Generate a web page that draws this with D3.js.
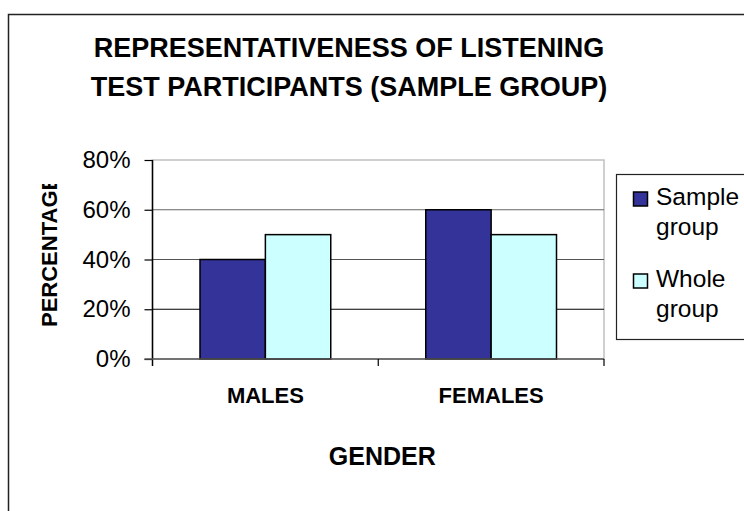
<!DOCTYPE html>
<html>
<head>
<meta charset="utf-8">
<script src="https://cdn.jsdelivr.net/npm/d3@7"></script>
<style>
  html, body { margin: 0; padding: 0; background: #fff; }
  svg { display: block; font-family: Arial, "Liberation Sans", sans-serif; }
</style>
</head>
<body>
<svg id="chart" width="744" height="511"></svg>
<script>
// Gender split of listening-test participants
const categories = ["MALES", "FEMALES"];
const seriesNames = ["Sample group", "Whole group"];
const sampleGroup = [0.40, 0.60];
const wholeGroup = [0.50, 0.50];
const yTicks = [0, 0.2, 0.4, 0.6, 0.8];
const titleLines = ["REPRESENTATIVENESS OF LISTENING", "TEST PARTICIPANTS (SAMPLE GROUP)"];
const legendLines = [["Sample", "group"], ["Whole", "group"]];

const colors = ["#333399", "#ccffff"];
const svg = d3.select("#chart");

// chart area frame
svg.append("rect")
  .attr("x", 8.5).attr("y", 14.5)
  .attr("width", 800).attr("height", 600)
  .attr("fill", "#fff").attr("stroke", "#222").attr("stroke-width", 1.5);

// title
const title = svg.append("text")
  .attr("text-anchor", "middle")
  .attr("font-weight", "bold")
  .attr("font-size", 27);
titleLines.forEach((t, i) => {
  title.append("tspan")
    .attr("x", 349).attr("y", 57 + i * 39)
    .text(t);
});

const plot = { left: 152.5, right: 604, top: 160, bottom: 359 };

const y = d3.scaleLinear().domain([0, 0.8]).range([plot.bottom, plot.top]);
const x0 = d3.scaleBand().domain(categories).range([plot.left, plot.right]);
const x1 = d3.scaleBand().domain(seriesNames)
  .range([47.5, x0.bandwidth() - 47.5]);

// plot area border (light grey)
svg.append("rect")
  .attr("x", plot.left).attr("y", plot.top)
  .attr("width", plot.right - plot.left).attr("height", plot.bottom - plot.top)
  .attr("fill", "#fff").attr("stroke", "#c0c0c0").attr("stroke-width", 1.5);

// horizontal gridlines
const gridColor = { 0.2: "#000", 0.4: "#555", 0.6: "#666" };
svg.append("g").selectAll("line")
  .data(yTicks.filter(d => d > 0 && d < 0.8))
  .join("line")
  .attr("x1", plot.left).attr("x2", plot.right)
  .attr("y1", d => y(d)).attr("y2", d => y(d))
  .attr("stroke", d => gridColor[d]).attr("stroke-width", 1.2);

// bars
const barData = categories.flatMap((c, i) => [
  { cat: c, series: seriesNames[0], value: sampleGroup[i], color: colors[0] },
  { cat: c, series: seriesNames[1], value: wholeGroup[i], color: colors[1] }
]);
svg.append("g").selectAll("rect")
  .data(barData)
  .join("rect")
  .attr("x", d => x0(d.cat) + x1(d.series))
  .attr("y", d => y(d.value))
  .attr("width", x1.bandwidth())
  .attr("height", d => y(0) - y(d.value))
  .attr("fill", d => d.color)
  .attr("stroke", "#000").attr("stroke-width", 1.5);

// y axis
const yAxis = svg.append("g")
  .attr("transform", `translate(${plot.left},0)`)
  .call(d3.axisLeft(y).tickValues(yTicks).tickFormat(d3.format(".0%")).tickSize(8).tickPadding(14));
yAxis.select(".domain").remove();
yAxis.selectAll(".tick line").attr("stroke", "#000").attr("stroke-width", 1.2);
yAxis.selectAll(".tick text")
  .attr("font-size", 24).attr("fill", "#000")
  .attr("font-family", "Arial, 'Liberation Sans', sans-serif");
yAxis.append("line")
  .attr("x1", 0).attr("x2", 0)
  .attr("y1", plot.top).attr("y2", plot.bottom + 7)
  .attr("stroke", "#000").attr("stroke-width", 1.5);

// x axis: line at zero and tick marks at category boundaries
svg.append("line")
  .attr("x1", plot.left - 8).attr("x2", plot.right)
  .attr("y1", plot.bottom).attr("y2", plot.bottom)
  .attr("stroke", "#555").attr("stroke-width", 1.5);
const boundaries = categories.map(c => x0(c)).concat([plot.right]);
svg.append("g").selectAll("line")
  .data(boundaries.slice(1))
  .join("line")
  .attr("x1", d => d).attr("x2", d => d)
  .attr("y1", plot.bottom).attr("y2", plot.bottom + 7)
  .attr("stroke", "#000").attr("stroke-width", 1.2);

// category labels
svg.append("g").selectAll("text")
  .data(categories)
  .join("text")
  .attr("x", d => x0(d) + x0.bandwidth() / 2)
  .attr("y", 403)
  .attr("text-anchor", "middle")
  .attr("font-weight", "bold")
  .attr("font-size", 22)
  .text(d => d);

// axis titles
svg.append("text")
  .attr("x", (plot.left + plot.right) / 2 + 4).attr("y", 465)
  .attr("text-anchor", "middle")
  .attr("font-weight", "bold").attr("font-size", 25)
  .text("GENDER");

// the vertical title is cut off at its top end
svg.append("defs").append("clipPath").attr("id", "ytitle-clip")
  .append("rect").attr("x", 0).attr("y", 184).attr("width", 120).attr("height", 300);
svg.append("g")
  .attr("clip-path", "url(#ytitle-clip)")
  .append("text")
  .attr("transform", "translate(57,327) rotate(-90)")
  .attr("font-weight", "bold").attr("font-size", 22)
  .text("PERCENTAGE");

// legend
const legend = svg.append("g");
legend.append("rect")
  .attr("x", 616.5).attr("y", 174.5)
  .attr("width", 200).attr("height", 165)
  .attr("fill", "#fff").attr("stroke", "#222").attr("stroke-width", 1.2);
const items = legend.selectAll("g.item")
  .data(seriesNames)
  .join("g").attr("class", "item")
  .attr("transform", (d, i) => `translate(0,${i * 82})`);
items.append("rect")
  .attr("x", 633.5).attr("y", 192)
  .attr("width", 14).attr("height", 14)
  .attr("fill", (d, i) => colors[i])
  .attr("stroke", "#000").attr("stroke-width", 1.5);
items.each(function (d, i) {
  const t = d3.select(this).append("text")
    .attr("font-size", 24.5).attr("fill", "#000");
  legendLines[i].forEach((line, j) => {
    t.append("tspan").attr("x", 656).attr("y", 205 + j * 30).text(line);
  });
});
</script>
</body>
</html>
